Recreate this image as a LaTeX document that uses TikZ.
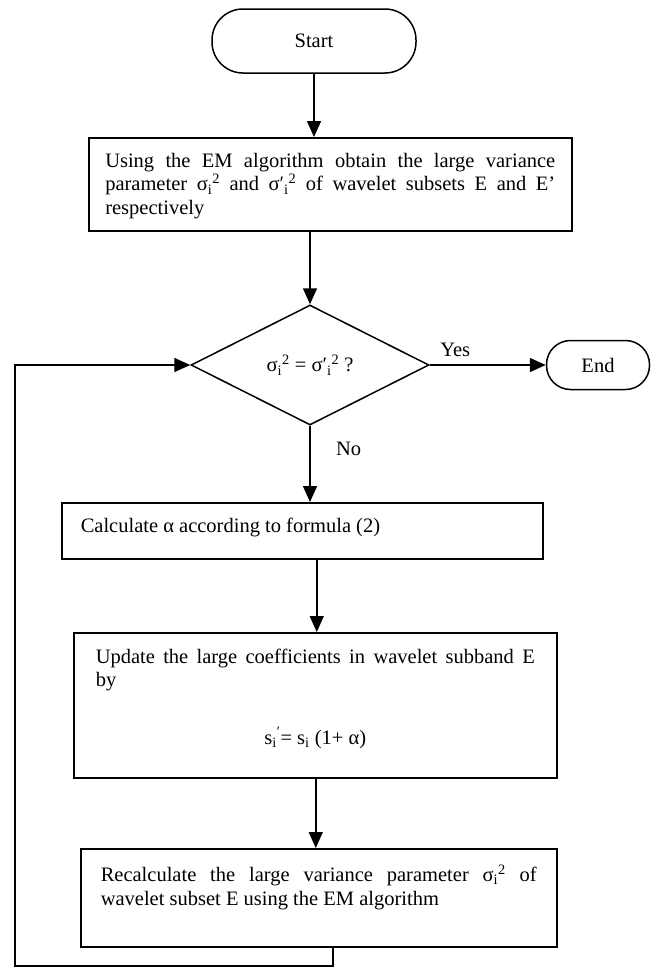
\documentclass[tikz,border=0pt]{standalone}
\usepackage{fontspec}
\setmainfont{Liberation Serif}
\usepackage{tikz}
\usetikzlibrary{arrows.meta, positioning, shapes.geometric}
\tikzset{>={Triangle[length=16pt,width=14pt]}}

\newcommand{\boxtext}[3]{\parbox[c][#1][t]{#2}{#3}}

\tikzset{
    every node/.style={font=\fontsize{20.5}{23.5}\selectfont},
    terminal/.style={draw, line width=1.5pt, rounded corners=24pt, inner sep=0pt},
    process/.style={draw, line width=1.5pt, rectangle, inner sep=0pt, anchor=north west},
    decision/.style={draw, line width=1.5pt, diamond, inner sep=0pt, aspect=2},
    flow/.style={->, line width=1.5pt}
}

\begin{document}
\begin{tikzpicture}[x=1pt, y=-1pt]
            \useasboundingbox (0,0) rectangle (652,969);
            \node[terminal, minimum width=204pt, minimum height=64pt, rounded corners=31pt] (start) at (314,41) {Start};
            \node[process, minimum width=483pt, minimum height=93pt] (obtain) at (88,137)
                {\boxtext{62pt}{450pt}{Using the EM algorithm obtain the large variance \linebreak parameter σ\textsubscript{i}\textsuperscript{2} and σ′\textsubscript{i}\textsuperscript{2} of wavelet subsets E and E’ \linebreak respectively}};
            \node[decision, minimum width=238pt, minimum height=120pt] (check) at (310,365)
                {σ\textsubscript{i}\textsuperscript{2} = σ′\textsubscript{i}\textsuperscript{2} ?};
            \node[terminal, minimum width=103pt, minimum height=49pt] (stop) at (598,365) {End};
            \node[process, minimum width=481pt, minimum height=56pt] (alpha) at (61,502)
                {\boxtext{26pt}{443pt}{Calculate α according to formula (2)}};
            \node[process, minimum width=483pt, minimum height=145pt] (update) at (73,632)
                {\boxtext{113pt}{439pt}{Update the large coefficients in wavelet subband E \linebreak by\par\vspace{34pt}{\centering s\textsubscript{i}\textsuperscript{′}= s\textsubscript{i} (1+ α)\par}}};
            \node[process, minimum width=476pt, minimum height=98pt] (recalc) at (80,848)
                {\boxtext{66pt}{436pt}{Recalculate the large variance parameter σ\textsubscript{i}\textsuperscript{2} of \linebreak wavelet subset E using the EM algorithm}};
            \coordinate (back) at (15,966);

            \draw[flow] (start.south) -- (start.south |- obtain.north);
            \draw[flow] (obtain.south -| check.north) -- (check.north);
            \draw[flow] (check.east) -- node[pos=0.22, above=4pt] {Yes} (stop.west);
            \draw[flow] (check.south) -- node[pos=0.3, right=22pt] {No} (check.south |- alpha.north);
            \draw[flow] ([xshift=1.5pt]alpha.south -| update.north) -- ([xshift=1.5pt]update.north);
            \draw[flow] ([xshift=0.5pt]update.south) -- ([xshift=0.5pt]recalc.north -| update.south);
            \draw[flow] ([xshift=14pt]recalc.south) |- (back) |- (check.west);
        \end{tikzpicture}
\end{document}
